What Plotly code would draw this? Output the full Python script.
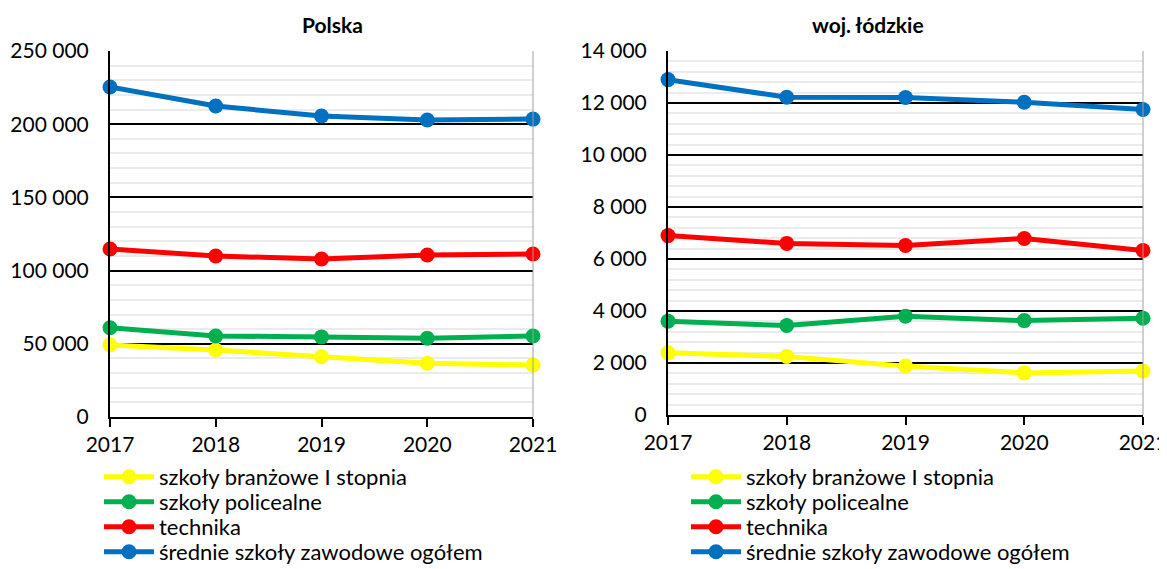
import plotly.graph_objects as go

years = [2017, 2018, 2019, 2020, 2021]
series_names = [
    "szkoły branżowe I stopnia",
    "szkoły policealne",
    "technika",
    "średnie szkoły zawodowe ogółem",
]
colors = ["#FFFF00", "#00B050", "#FF0000", "#0070C0"]

# Polska
pl_branzowe = [49200, 45800, 41200, 36700, 35500]
pl_policealne = [61000, 55300, 54700, 53800, 55300]
pl_technika = [114800, 110000, 107900, 110700, 111300]
pl_ogolem = [225400, 212400, 205600, 202900, 203500]

# woj. łódzkie
ld_branzowe = [2390, 2250, 1880, 1620, 1690]
ld_policealne = [3610, 3440, 3800, 3630, 3720]
ld_technika = [6900, 6600, 6520, 6790, 6330]
ld_ogolem = [12900, 12220, 12210, 12030, 11750]

FONT = "Lato, 'Open Sans', sans-serif"
# the page body keeps its default 8 px margin, so the figure is 8 px smaller
W, H = 1159, 561

fig = go.Figure()

# one legend per entry so the rows can sit 25 px apart like in Excel
legend_layout = {}
panels = [
    ("x", "y", 91 / W, [pl_branzowe, pl_policealne, pl_technika, pl_ogolem]),
    ("x2", "y2", 678 / W, [ld_branzowe, ld_policealne, ld_technika, ld_ogolem]),
]
n = 0
for xa, ya, lx, data in panels:
    for i, (name, color, vals) in enumerate(zip(series_names, colors, data)):
        n += 1
        key = "legend" if n == 1 else "legend%d" % n
        fig.add_trace(go.Scatter(
            x=years, y=vals, name=name, xaxis=xa, yaxis=ya, legend=key,
            mode="lines+markers", cliponaxis=False, showlegend=True,
            line=dict(color=color, width=5),
            marker=dict(color=color, size=15),
        ))
        legend_layout[key] = dict(
            x=lx, y=1 - (469 + 25 * i) / H, xanchor="left", yanchor="middle",
            font=dict(size=22), bgcolor="rgba(0,0,0,0)", itemwidth=50,
        )

x_common = dict(
    range=[2017, 2021], tickvals=years, showgrid=False, zeroline=False,
    showline=True, linecolor="black", linewidth=2, automargin=False,
    ticks="outside", ticklen=8, tickwidth=2, tickcolor="black",
    ticklabeloverflow="allow", tickfont=dict(size=21, color="black"),
)
y_common = dict(
    showline=True, linecolor="black", linewidth=2, zeroline=False,
    showgrid=True, gridcolor="black", gridwidth=2, automargin=False,
    ticks="", ticklabelstandoff=15, tickfont=dict(size=21, color="black"),
    tickformat=",d",
)

fig.update_layout(
    width=W, height=H,
    margin=dict(l=0, r=0, t=0, b=0, autoexpand=False),
    showlegend=True,
    plot_bgcolor="white", paper_bgcolor="white",
    separators=", ",
    font=dict(family=FONT, color="black"),
    xaxis=dict(domain=[102 / W, 525 / W], anchor="y", **x_common),
    xaxis2=dict(domain=[660 / W, 1135 / W], anchor="y2", **x_common),
    yaxis=dict(domain=[1 - 409 / H, 1 - 43 / H], anchor="x", range=[0, 250000], dtick=50000,
               minor=dict(dtick=10000, showgrid=True, gridcolor="#EBEBEB", gridwidth=2),
               **y_common),
    yaxis2=dict(domain=[1 - 407 / H, 1 - 43 / H], anchor="x2", range=[0, 14000], dtick=2000,
                minor=dict(dtick=400, showgrid=True, gridcolor="#EBEBEB", gridwidth=2),
                **y_common),
    annotations=[
        dict(text="<b>Polska</b>", x=292 / W, y=1 - 17 / H, xref="paper", yref="paper",
             yanchor="middle", showarrow=False, font=dict(size=21)),
        dict(text="<b>woj. łódzkie</b>", x=918 / W, y=1 - 17 / H, xref="paper", yref="paper",
             yanchor="middle", showarrow=False, font=dict(size=21)),
    ],
    shapes=[
        dict(type="line", xref="x domain", yref="y domain", x0=1, x1=1, y0=0, y1=1,
             line=dict(color="#A0A0A0", width=1)),
        dict(type="line", xref="x2 domain", yref="y2 domain", x0=1, x1=1, y0=0, y1=1,
             line=dict(color="#A0A0A0", width=1)),
    ],
    **legend_layout,
)

fig.write_html("out.html")
